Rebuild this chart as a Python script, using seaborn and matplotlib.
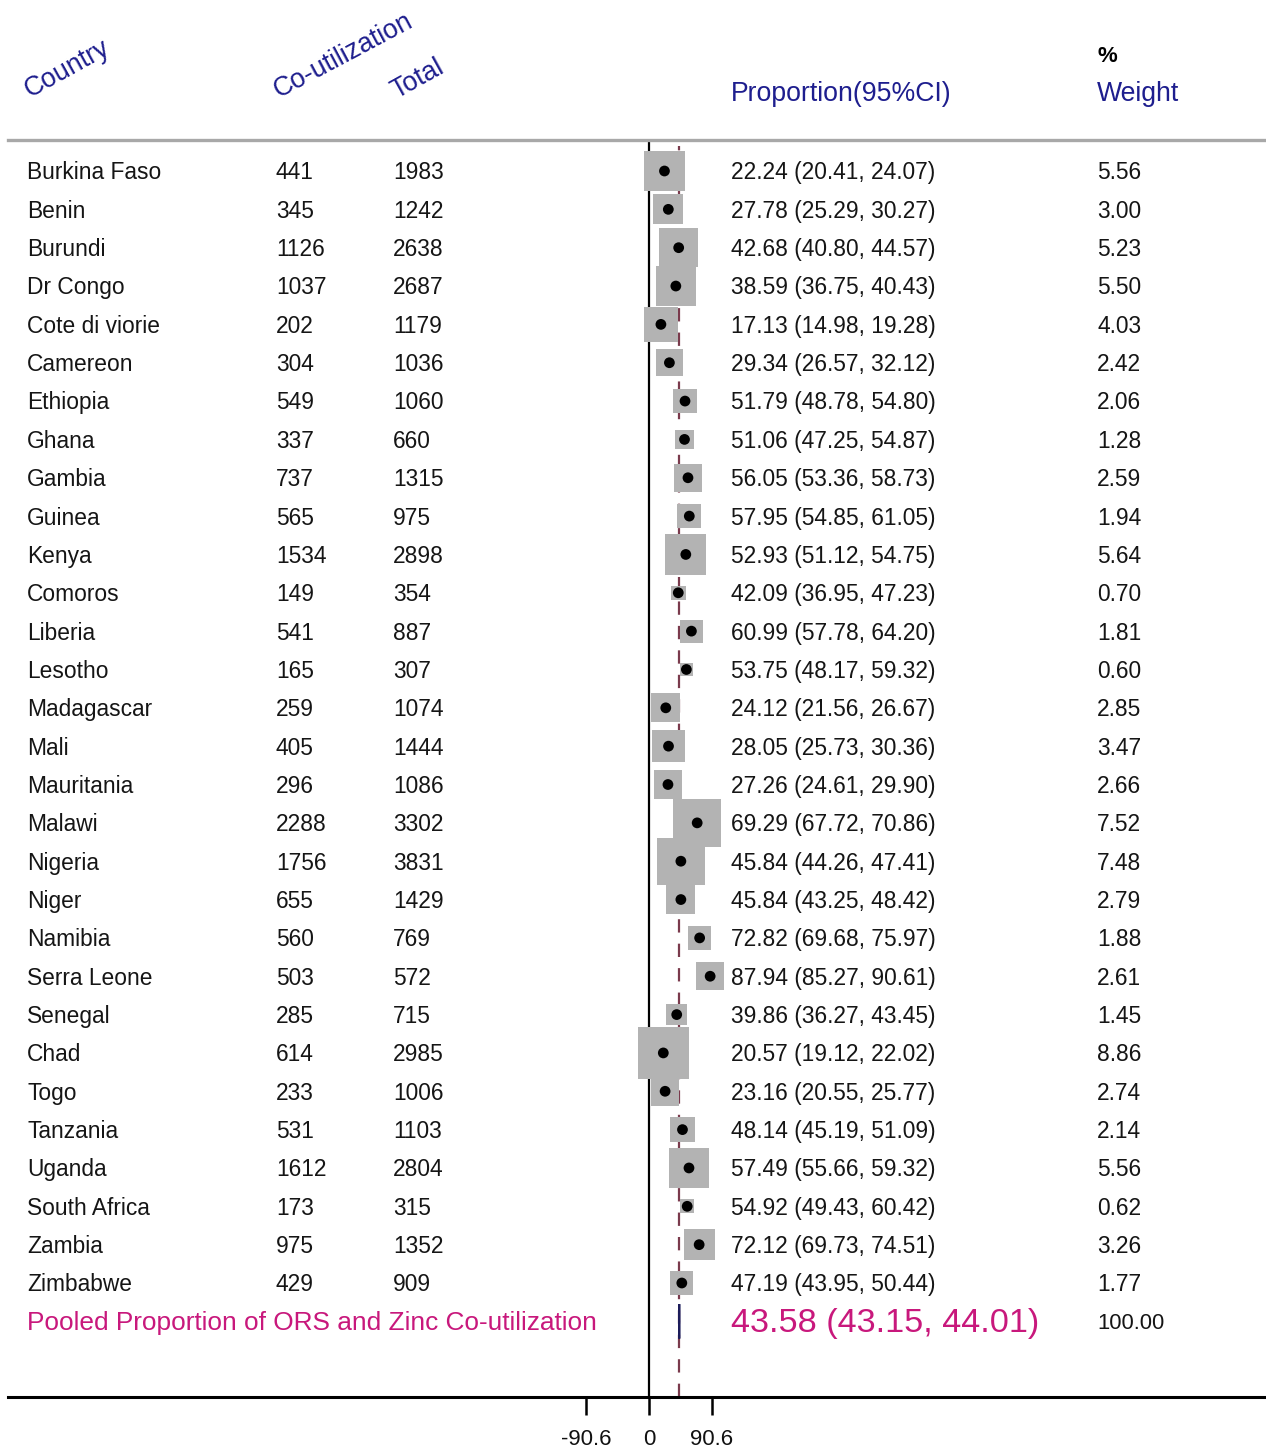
import numpy as np
import pandas as pd
import matplotlib
matplotlib.use("Agg")
import matplotlib.pyplot as plt
import matplotlib.transforms as mtransforms
from matplotlib.patches import Polygon
import seaborn as sns

countries = ["Burkina Faso", "Benin", "Burundi", "Dr Congo", "Cote di viorie", "Camereon",
             "Ethiopia", "Ghana", "Gambia", "Guinea", "Kenya", "Comoros", "Liberia", "Lesotho",
             "Madagascar", "Mali", "Mauritania", "Malawi", "Nigeria", "Niger", "Namibia",
             "Serra Leone", "Senegal", "Chad", "Togo", "Tanzania", "Uganda", "South Africa",
             "Zambia", "Zimbabwe"]
co_util = [441, 345, 1126, 1037, 202, 304, 549, 337, 737, 565, 1534, 149, 541, 165, 259, 405,
           296, 2288, 1756, 655, 560, 503, 285, 614, 233, 531, 1612, 173, 975, 429]
total = [1983, 1242, 2638, 2687, 1179, 1036, 1060, 660, 1315, 975, 2898, 354, 887, 307, 1074,
         1444, 1086, 3302, 3831, 1429, 769, 572, 715, 2985, 1006, 1103, 2804, 315, 1352, 909]
prop = [22.24, 27.78, 42.68, 38.59, 17.13, 29.34, 51.79, 51.06, 56.05, 57.95, 52.93, 42.09,
        60.99, 53.75, 24.12, 28.05, 27.26, 69.29, 45.84, 45.84, 72.82, 87.94, 39.86, 20.57,
        23.16, 48.14, 57.49, 54.92, 72.12, 47.19]
lower = [20.41, 25.29, 40.80, 36.75, 14.98, 26.57, 48.78, 47.25, 53.36, 54.85, 51.12, 36.95,
         57.78, 48.17, 21.56, 25.73, 24.61, 67.72, 44.26, 43.25, 69.68, 85.27, 36.27, 19.12,
         20.55, 45.19, 55.66, 49.43, 69.73, 43.95]
upper = [24.07, 30.27, 44.57, 40.43, 19.28, 32.12, 54.80, 54.87, 58.73, 61.05, 54.75, 47.23,
         64.20, 59.32, 26.67, 30.36, 29.90, 70.86, 47.41, 48.42, 75.97, 90.61, 43.45, 22.02,
         25.77, 51.09, 59.32, 60.42, 74.51, 50.44]
weight = [5.56, 3.00, 5.23, 5.50, 4.03, 2.42, 2.06, 1.28, 2.59, 1.94, 5.64, 0.70, 1.81, 0.60,
          2.85, 3.47, 2.66, 7.52, 7.48, 2.79, 1.88, 2.61, 1.45, 8.86, 2.74, 2.14, 5.56, 0.62,
          3.26, 1.77]
pooled_label = "Pooled Proportion of ORS and Zinc Co-utilization"
pooled_est, pooled_lo, pooled_hi, pooled_w = 43.58, 43.15, 44.01, 100.00
tick_values = [-90.6, 0, 90.6]
tick_labels = ["-90.6", "0", "90.6"]

df = pd.DataFrame({"country": countries, "n": co_util, "total": total, "prop": prop,
                   "lo": lower, "hi": upper, "w": weight})
df["row"] = np.arange(len(df))

sns.set_theme(style="white")
plt.rcParams["font.family"] = ["Liberation Sans", "DejaVu Sans"]

W, H, DPI = 1266, 1450, 100
fig = plt.figure(figsize=(W / DPI, H / DPI), dpi=DPI)

# axes geometry in pixels
ax_left, ax_right, ax_top, ax_bot = 8, 1266, 140, 1397
ax = fig.add_axes([ax_left / W, 1 - ax_bot / H, (ax_right - ax_left) / W, (ax_bot - ax_top) / H])

# x scale: 0 at px 649, 90.6 at px 712
ppu = (712 - 649) / 90.6
ax.set_xlim((ax_left - 649) / ppu, (ax_right - 649) / ppu)
row0_px, row_step = 171, (1283 - 171) / 29
ax.set_ylim((ax_bot - row0_px) / row_step, (ax_top - row0_px) / row_step)

# boxes (area proportional to weight)
k = (17.3 * 0.72) ** 2
wmin, wmax = df["w"].min(), df["w"].max()
sns.scatterplot(data=df, x="prop", y="row", size="w", sizes=(k * wmin, k * wmax),
                size_norm=(wmin, wmax), marker="s", color="#b3b3b3", edgecolor="none",
                linewidth=0, legend=False, ax=ax, zorder=2)
# confidence intervals
ax.hlines(df["row"], df["lo"], df["hi"], color="black", lw=1, zorder=3)
# point estimates
sns.scatterplot(data=df, x="prop", y="row", marker="o", s=60, color="black",
                edgecolor="none", legend=False, ax=ax, zorder=4)

# zero line and pooled dashed line
ax.axvline(0, color="black", lw=1.6, zorder=1)
ax.axvline(pooled_est, ymin=0, ymax=0.995, color="#7a3a4c", lw=1.6,
           ls=(0, (6, 5)), zorder=1)

# pooled diamond
prow = len(df)
diamond = Polygon([[pooled_lo, prow], [pooled_est, prow - 0.45], [pooled_hi, prow],
                   [pooled_est, prow + 0.45]], closed=True, facecolor="#1c1c5a",
                  edgecolor="#1c1c5a", lw=1.4, zorder=5)
ax.add_patch(diamond)

# spines / ticks
for s in ["left", "right"]:
    ax.spines[s].set_visible(False)
ax.spines["top"].set_color("#a8a8a8")
ax.spines["top"].set_linewidth(2.4)
ax.spines["bottom"].set_color("black")
ax.spines["bottom"].set_linewidth(2.2)
ax.set_yticks([])
ax.set_xticks(tick_values)
ax.set_xticklabels(tick_labels)
ax.tick_params(axis="x", direction="out", length=13, width=1.8, color="black",
               pad=10, labelsize=16, labelcolor="#111111", bottom=True)
ax.set_xlabel("")
ax.set_ylabel("")
ax.grid(False)

# text columns
trans = mtransforms.blended_transform_factory(fig.transFigure, ax.transData)
fs = 16.4
txtc = "#151515"
dy = 0.05
for i, r in df.iterrows():
    y = r["row"] + dy
    ax.text(27 / W, y, r["country"], transform=trans, ha="left", va="center", fontsize=fs, color=txtc)
    ax.text(276 / W, y, f"{int(r['n'])}", transform=trans, ha="left", va="center", fontsize=fs, color=txtc)
    ax.text(393 / W, y, f"{int(r['total'])}", transform=trans, ha="left", va="center", fontsize=fs, color=txtc)
    ax.text(731 / W, y, f"{r['prop']:.2f} ({r['lo']:.2f}, {r['hi']:.2f})", transform=trans,
            ha="left", va="center", fontsize=fs, color=txtc)
    ax.text(1097 / W, y, f"{r['w']:.2f}", transform=trans, ha="left", va="center", fontsize=fs, color=txtc)

mag = "#c8187c"
ax.text(27 / W, prow + dy, pooled_label, transform=trans, ha="left", va="center", fontsize=18.9, color=mag)
ax.text(731 / W, prow + dy, f"{pooled_est:.2f} ({pooled_lo:.2f}, {pooled_hi:.2f})", transform=trans,
        ha="left", va="center", fontsize=24.7, color=mag)
ax.text(1097 / W, prow + dy, f"{pooled_w:.2f}", transform=trans, ha="left", va="center", fontsize=15.8, color=txtc)

# headers
navy = "#1e1e8e"
hfs = 19.2
def fig_xy(px, py):
    return px / W, 1 - py / H

fig.text(*fig_xy(30, 98), "Country", rotation=29, rotation_mode="anchor", ha="left",
         va="baseline", fontsize=hfs, color=navy)
fig.text(*fig_xy(279, 98), "Co-utilization", rotation=28, rotation_mode="anchor", ha="left",
         va="baseline", fontsize=hfs, color=navy)
fig.text(*fig_xy(396, 99), "Total", rotation=29, rotation_mode="anchor", ha="left",
         va="baseline", fontsize=hfs, color=navy)
fig.text(*fig_xy(731, 94), "Proportion(95%CI)", ha="left", va="center", fontsize=hfs, color=navy)
fig.text(*fig_xy(1097, 94), "Weight", ha="left", va="center", fontsize=hfs, color=navy)
fig.text(*fig_xy(1097, 56), "%", ha="left", va="center", fontsize=16, color="black",
         fontweight="bold")

fig.savefig("out.png", dpi=DPI, facecolor="white")
